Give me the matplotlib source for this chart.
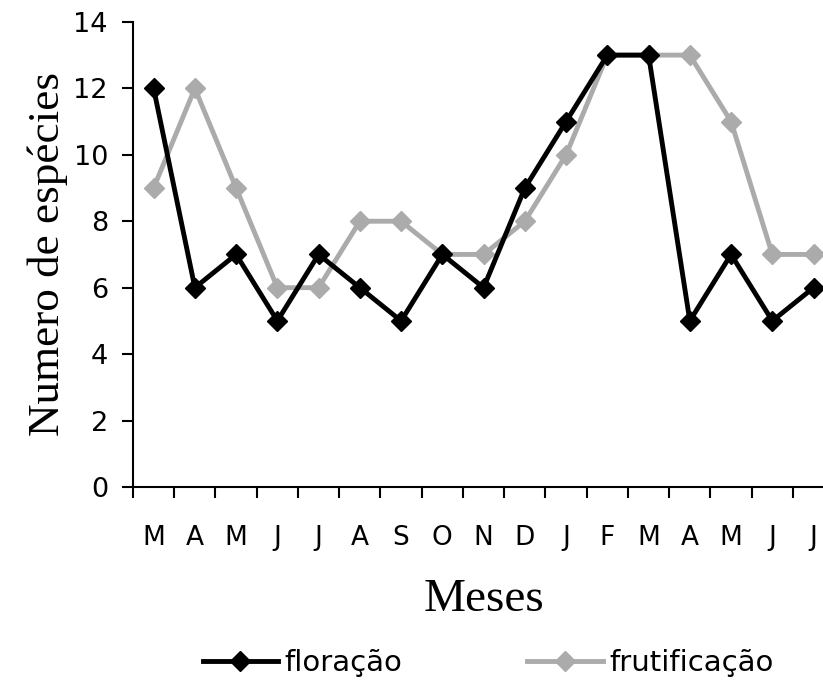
import matplotlib
matplotlib.use("Agg")
import matplotlib.pyplot as plt

meses = ["M", "A", "M", "J", "J", "A", "S", "O", "N", "D", "J", "F", "M", "A", "M", "J", "J"]
floracao = [12, 6, 7, 5, 7, 6, 5, 7, 6, 9, 11, 13, 13, 5, 7, 5, 6]
frutificacao = [9, 12, 9, 6, 6, 8, 8, 7, 7, 8, 10, 13, 13, 13, 11, 7, 7]

fig = plt.figure(figsize=(8.23, 6.84), dpi=100)
# the original chart is cut off on the right, so the axes run past the figure edge
ax = fig.add_axes([0.1616, 0.288, 0.852, 0.68])

x = list(range(len(meses)))
ax.plot(x, floracao, color="black", lw=3.5, marker="D", ms=10, label="floração", zorder=3)
ax.plot(x, frutificacao, color="#ababab", lw=3.5, marker="D", ms=10, label="frutificação", zorder=2)

ax.set_xlim(-0.5, len(meses) - 0.5)
ax.set_ylim(0, 14)
ax.set_yticks(range(0, 15, 2))
ax.set_xticks(x)
ax.set_xticklabels(meses, fontsize=19)
ax.set_xticks([i - 0.5 for i in range(len(meses) + 1)], minor=True)
ax.tick_params(axis="x", which="major", length=0, pad=27)
ax.tick_params(axis="x", which="minor", length=8, width=1.5, direction="out")
ax.tick_params(axis="y", length=8, width=1.5, labelsize=19.5, pad=10)

for s in ["top", "right"]:
    ax.spines[s].set_visible(False)
ax.spines["left"].set_linewidth(1.5)
ax.spines["bottom"].set_linewidth(1.5)

ax.set_ylabel("Numero de espécies", family="Liberation Serif", fontsize=32.5, labelpad=4)
ax.set_xlabel("Meses", family="Liberation Serif", fontsize=34, labelpad=20)

fig.legend(loc="center", bbox_to_anchor=(0.593, 0.03), ncol=2, frameon=False,
           handlelength=2.6, handletextpad=0.2, columnspacing=4.3,
           prop={"size": 21})

fig.savefig("out.png", dpi=100)
